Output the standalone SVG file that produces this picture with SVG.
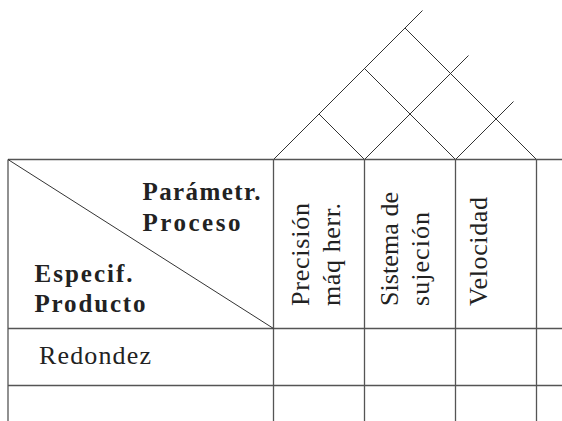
<svg xmlns="http://www.w3.org/2000/svg" width="562" height="421" viewBox="0 0 562 421">
  <style>
    .grid { stroke: #555; stroke-width: 1.3; fill: none; }
    .roof { stroke: #333; stroke-width: 1; fill: none; }
    .bold { font-family: "Liberation Serif", "Times New Roman", serif; font-weight: bold; font-size: 25px; fill: #222; }
    .reg { font-family: "Liberation Serif", "Times New Roman", serif; font-size: 26px; fill: #222; }
  </style>
  <rect width="562" height="421" fill="#fff"/>

  <!-- correlation roof above the process columns -->
  <g id="roof" class="roof">
    <line x1="273.5" y1="159.5" x2="422.5" y2="10.5"/>
    <line x1="364.5" y1="159.5" x2="468.5" y2="55.5"/>
    <line x1="455.5" y1="159.5" x2="513.5" y2="101.5"/>
    <line x1="364.5" y1="159.5" x2="319" y2="114"/>
    <line x1="455.5" y1="159.5" x2="364.5" y2="68.5"/>
    <line x1="536.5" y1="159.5" x2="405" y2="28"/>
  </g>

  <!-- table grid -->
  <g id="grid" class="grid">
    <line x1="8" y1="159.5" x2="562" y2="159.5"/>
    <line x1="8" y1="328.5" x2="562" y2="328.5"/>
    <line x1="8" y1="385.5" x2="562" y2="385.5"/>
    <line x1="8" y1="159.5" x2="8" y2="421"/>
    <line x1="273.5" y1="159.5" x2="273.5" y2="421"/>
    <line x1="364.5" y1="159.5" x2="364.5" y2="421"/>
    <line x1="455.5" y1="159.5" x2="455.5" y2="421"/>
    <line x1="536.5" y1="159.5" x2="536.5" y2="421"/>
  </g>

  <!-- header corner cell -->
  <g id="corner">
    <line class="roof" x1="8" y1="159.5" x2="273.5" y2="328.5"/>
    <text class="bold" x="142.5" y="200" textLength="118" lengthAdjust="spacing">Parámetr.</text>
    <text class="bold" x="142.5" y="231" textLength="98" lengthAdjust="spacing">Proceso</text>
    <text class="bold" x="34.5" y="281.5" textLength="98" lengthAdjust="spacing">Especif.</text>
    <text class="bold" x="34.5" y="311.5" textLength="111" lengthAdjust="spacing">Producto</text>
  </g>

  <!-- process parameter headers -->
  <g id="col-precision" class="reg">
    <text transform="translate(308.5,306) rotate(-90)" textLength="103" lengthAdjust="spacing">Precisión</text>
    <text transform="translate(340,306) rotate(-90)" textLength="103" lengthAdjust="spacing">máq herr.</text>
  </g>
  <g id="col-sujecion" class="reg">
    <text transform="translate(398,306) rotate(-90)" textLength="114" lengthAdjust="spacing">Sistema de</text>
    <text transform="translate(428.5,306) rotate(-90)" textLength="94" lengthAdjust="spacing">sujeción</text>
  </g>
  <g id="col-velocidad" class="reg">
    <text transform="translate(487,306) rotate(-90)" textLength="109" lengthAdjust="spacing">Velocidad</text>
  </g>

  <!-- product specification rows -->
  <g id="row-redondez" class="reg">
    <text x="39" y="363.5" textLength="112" lengthAdjust="spacing">Redondez</text>
  </g>
</svg>
